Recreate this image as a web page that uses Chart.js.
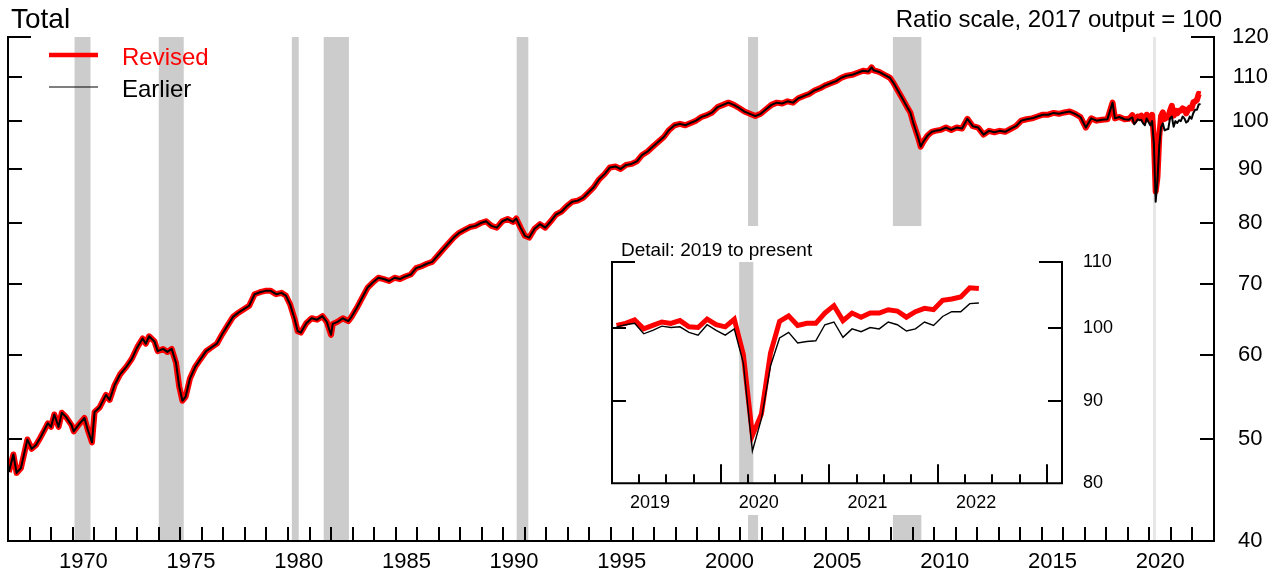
<!DOCTYPE html>
<html>
<head>
<meta charset="utf-8">
<title>Industrial production: Total</title>
<script src="https://cdn.jsdelivr.net/npm/chart.js@4.4.1/dist/chart.umd.min.js"></script>
<style>
    body { margin: 0; background: #fff; }
    #wrap { position: relative; width: 1285px; height: 575px; }
    #wrap canvas { position: absolute; }
    #main { left: 0; top: 0; }
    #inset { left: 600px; top: 226px; background: #fff; }
</style>
</head>
<body>
<div id="wrap">
    <canvas id="main" width="1285" height="575"></canvas>
    <canvas id="inset" width="530" height="289"></canvas>
</div>
<script>
// History before 2019 (revised and earlier overlap there), decimal years
const histDates = [
    1967.04, 1967.25, 1967.4, 1967.6, 1967.9, 1968.1, 1968.3, 1968.5, 1968.7, 1968.85,
    1969.0, 1969.15, 1969.35, 1969.5, 1969.7, 1969.95, 1970.05, 1970.3, 1970.55, 1970.7,
    1970.9, 1971.02, 1971.25, 1971.55, 1971.72, 1971.95, 1972.2, 1972.5, 1972.75, 1973.0,
    1973.25, 1973.4, 1973.55, 1973.8, 1973.95, 1974.2, 1974.4, 1974.6, 1974.8, 1974.95,
    1975.1, 1975.25, 1975.45, 1975.7, 1975.95, 1976.2, 1976.45, 1976.7, 1976.95, 1977.2,
    1977.45, 1977.7, 1977.95, 1978.2, 1978.45, 1978.7, 1978.95, 1979.2, 1979.45, 1979.7,
    1979.9, 1980.1, 1980.3, 1980.45, 1980.6, 1980.85, 1981.1, 1981.35, 1981.6, 1981.8,
    1982.0, 1982.08, 1982.3, 1982.55, 1982.8, 1982.95, 1983.2, 1983.45, 1983.7, 1983.95,
    1984.2, 1984.45, 1984.7, 1984.95, 1985.2, 1985.45, 1985.7, 1985.95, 1986.2, 1986.45,
    1986.7, 1986.95, 1987.2, 1987.45, 1987.7, 1987.95, 1988.2, 1988.45, 1988.7, 1988.95,
    1989.2, 1989.45, 1989.7, 1989.95, 1990.2, 1990.45, 1990.6, 1990.8, 1991.0, 1991.2,
    1991.45, 1991.7, 1991.95, 1992.2, 1992.45, 1992.7, 1992.95, 1993.2, 1993.45, 1993.7,
    1993.95, 1994.2, 1994.45, 1994.7, 1994.95, 1995.2, 1995.45, 1995.7, 1995.95, 1996.2,
    1996.45, 1996.7, 1996.95, 1997.2, 1997.45, 1997.7, 1997.95, 1998.2, 1998.45, 1998.7,
    1998.95, 1999.2, 1999.45, 1999.7, 1999.95, 2000.2, 2000.45, 2000.7, 2000.95, 2001.2,
    2001.45, 2001.7, 2001.95, 2002.2, 2002.45, 2002.7, 2002.95, 2003.2, 2003.45, 2003.7,
    2003.95, 2004.2, 2004.45, 2004.7, 2004.95, 2005.2, 2005.45, 2005.7, 2005.95, 2006.2,
    2006.45, 2006.7, 2006.95, 2007.1, 2007.2, 2007.45, 2007.7, 2007.95, 2008.1, 2008.35,
    2008.57, 2008.75, 2008.9, 2009.03, 2009.26, 2009.38, 2009.5, 2009.7, 2009.9, 2010.05,
    2010.3, 2010.55, 2010.8, 2011.05, 2011.3, 2011.55, 2011.8, 2012.05, 2012.3, 2012.55,
    2012.8, 2013.05, 2013.3, 2013.55, 2013.8, 2014.05, 2014.3, 2014.55, 2014.8, 2015.05,
    2015.3, 2015.55, 2015.8, 2016.05, 2016.3, 2016.55, 2016.8, 2017.05, 2017.3, 2017.55,
    2017.8, 2018.05, 2018.29, 2018.4, 2018.6, 2018.85
];
const histValues = [
    46.5, 48.3, 46.4, 46.9, 49.9, 48.9, 49.3, 50.1, 51.0, 51.7,
    51.3, 52.7, 51.3, 52.9, 52.4, 51.5, 50.8, 51.6, 52.3, 51.0,
    49.6, 53.0, 53.5, 55.0, 54.4, 56.2, 57.5, 58.5, 59.5, 61.0,
    62.2, 61.5, 62.5, 61.8, 60.5, 60.8, 60.4, 60.8, 59.0, 56.0,
    54.3, 54.8, 57.0, 58.5, 59.5, 60.5, 61.0, 61.5, 62.8, 64.0,
    65.2, 65.8, 66.3, 66.8, 68.5, 68.8, 69.0, 69.0, 68.5, 68.7,
    68.3, 67.0, 65.0, 63.2, 63.0, 64.3, 65.0, 64.8, 65.3, 64.5,
    62.7, 64.2, 64.5, 65.0, 64.6, 65.2, 66.5, 68.0, 69.5, 70.3,
    71.0, 70.8, 70.5, 71.0, 70.8, 71.2, 71.5, 72.5, 72.8, 73.2,
    73.5, 74.5, 75.5, 76.5, 77.5, 78.3, 78.8, 79.3, 79.5, 80.0,
    80.3, 79.5, 79.2, 80.3, 80.7, 80.2, 80.8, 79.2, 77.8, 77.5,
    79.0, 79.8, 79.2, 80.3, 81.5, 82.0, 83.0, 83.8, 84.0, 84.5,
    85.5, 86.5, 88.0, 89.0, 90.3, 90.5, 90.0, 90.8, 91.0, 91.5,
    92.8, 93.5, 94.5, 95.5, 96.5, 98.0, 99.0, 99.3, 99.0, 99.5,
    100.0, 100.8, 101.2, 101.8, 103.0, 103.5, 104.0, 103.5, 102.8, 102.0,
    101.5, 101.0, 101.5, 102.5, 103.5, 104.0, 103.8, 104.3, 104.0, 105.0,
    105.5, 106.0, 106.8, 107.3, 108.0, 108.5, 109.0, 109.8, 110.3, 110.5,
    111.0, 111.5, 111.3, 112.3, 111.6, 111.2, 110.5, 109.8, 108.7, 106.5,
    104.6, 103.0, 101.8, 99.6, 96.4, 94.5, 95.5, 96.8, 97.6, 97.8,
    98.0, 98.5, 98.0, 98.5, 98.3, 100.4, 98.8, 98.5, 97.0, 97.8,
    97.5, 97.8, 97.6, 98.2, 98.8, 100.0, 100.3, 100.5, 100.9, 101.3,
    101.3, 101.7, 101.5, 101.8, 102.0, 101.5, 100.8, 98.5, 100.5, 100.0,
    100.2, 100.3, 104.0, 100.5, 100.8, 100.3
];

// Monthly detail, January 2019 to May 2022
const detailStartYear = 2019;
const detailRevised = [
    100.4, 100.7, 101.2, 99.9, 100.4, 100.9, 100.7, 101.1, 100.2, 100.1, 101.3, 100.5,
    100.2, 101.3, 96.3, 85.7, 88.4, 96.5, 101.0, 101.8, 100.4, 100.7, 100.7, 102.2,
    103.3, 101.1, 102.2, 101.6, 102.2, 102.2, 102.7, 102.5, 101.6, 102.4, 102.9, 102.7,
    104.1, 104.3, 104.6, 106.0, 105.9
];
const detailEarlier = [
    100.2, 100.5, 100.7, 99.2, 99.7, 100.3, 100.1, 100.2, 99.4, 99.0, 100.5, 99.7,
    99.0, 99.9, 95.1, 83.8, 87.8, 94.7, 98.6, 99.4, 97.9, 98.1, 98.2, 100.5,
    100.9, 98.7, 99.9, 99.5, 100.1, 99.9, 100.9, 100.5, 99.6, 99.9, 100.9, 100.4,
    101.7, 102.4, 102.4, 103.6, 103.7
];

// Recession shading, decimal years
const recStart = [1970.09, 1974.0, 1980.18, 1981.66, 1990.62, 2001.36, 2008.09, 2020.17];
const recEnd   = [1970.83, 1975.16, 1980.5, 1982.83, 1991.16, 2001.83, 2009.41, 2020.30];

const mainYTicks = [40, 50, 60, 70, 80, 90, 100, 110, 120];
const mainYearLabels = [1970, 1975, 1980, 1985, 1990, 1995, 2000, 2005, 2010, 2015, 2020];
const insetYTicks = [80, 90, 100, 110];
const insetYearLabels = [2019, 2020, 2021, 2022];

const FONT = '"Liberation Sans", Arial, Helvetica, sans-serif';
Chart.defaults.font.family = FONT;
Chart.defaults.color = '#000';

const monthDate = i => detailStartYear + (i + 0.5) / 12;
const histPoints = histDates.map((d, i) => ({ x: d, y: histValues[i] }));
const revisedDetailPts = detailRevised.map((v, i) => ({ x: monthDate(i), y: v }));
const earlierDetailPts = detailEarlier.map((v, i) => ({ x: monthDate(i), y: v }));

// gray bars for recessions, clipped to the plot
function drawShading(chart, thinColor) {
    const { ctx, chartArea: a, scales: { x } } = chart;
    ctx.save();
    recStart.forEach((s, i) => {
        const e = recEnd[i];
        if (e < x.min || s > x.max) return;
        const x0 = x.getPixelForValue(Math.max(s, x.min));
        const x1 = x.getPixelForValue(Math.min(e, x.max));
        ctx.fillStyle = (thinColor && x1 - x0 < 4) ? thinColor : '#cccccc';
        ctx.fillRect(x0, a.top, Math.max(x1 - x0, 1.5), a.bottom - a.top);
    });
    ctx.restore();
}

// axis lines and inward tick marks
function drawFrame(chart, xMarks, yMarks) {
    const { ctx, chartArea: a, scales: { x, y } } = chart;
    ctx.save();
    ctx.strokeStyle = '#000';
    ctx.lineWidth = 2;
    ctx.lineCap = 'square';
    ctx.beginPath();
    ctx.moveTo(a.left, a.top);
    ctx.lineTo(a.left, a.bottom);
    ctx.lineTo(a.right, a.bottom);
    ctx.lineTo(a.right, a.top);
    ctx.stroke();
    ctx.lineCap = 'butt';
    ctx.beginPath();
    xMarks.forEach(([v, len]) => {
        const px = Math.round(x.getPixelForValue(v));
        ctx.moveTo(px, a.bottom);
        ctx.lineTo(px, a.bottom - len);
    });
    yMarks.forEach(([v, len]) => {
        const py = Math.round(y.getPixelForValue(v));
        ctx.moveTo(a.left, py);
        ctx.lineTo(a.left + len, py);
        ctx.moveTo(a.right, py);
        ctx.lineTo(a.right - len, py);
    });
    ctx.stroke();
    ctx.restore();
}

const mainXMarks = [];
for (let yr = 1968; yr <= 2022; yr++) mainXMarks.push([yr, 14]);
const mainYMarks = mainYTicks.slice(1).map(v => [v, v === 120 ? 23 : 14]);

const mainDecor = {
    id: 'mainDecor',
    beforeDatasetsDraw(chart) { drawShading(chart, '#e6e6e6'); },
    afterDatasetsDraw(chart) { drawFrame(chart, mainXMarks, mainYMarks); },
    afterDraw(chart) {
        const ctx = chart.ctx;
        ctx.save();
        ctx.fillStyle = '#000';
        ctx.textBaseline = 'alphabetic';
        ctx.font = '28px ' + FONT;
        ctx.textAlign = 'left';
        ctx.fillText('Total', 11, 28);
        ctx.font = '24px ' + FONT;
        ctx.textAlign = 'right';
        ctx.fillText('Ratio scale, 2017 output = 100', 1222, 27);
        // legend
        ctx.textAlign = 'left';
        chart.data.datasets.forEach((ds, i) => {
            const ly = 55 + i * 32;
            ctx.strokeStyle = ds.borderColor;
            ctx.lineWidth = i === 0 ? 4.5 : 1.2;
            ctx.beginPath();
            ctx.moveTo(49, ly);
            ctx.lineTo(98, ly);
            ctx.stroke();
            ctx.fillStyle = ds.borderColor;
            ctx.fillText(ds.label, 122, ly + 10);
        });
        ctx.restore();
    }
};

new Chart(document.getElementById('main'), {
    type: 'line',
    data: {
        datasets: [
            {
                label: 'Revised',
                data: histPoints.concat(revisedDetailPts),
                borderColor: '#ff0000',
                borderWidth: 6,
                order: 2
            },
            {
                label: 'Earlier',
                data: histPoints.concat(earlierDetailPts),
                borderColor: '#000000',
                borderWidth: 2,
                order: 1
            }
        ]
    },
    options: {
        responsive: false,
        animation: false,
        layout: { padding: { left: 8, top: 37, right: 0, bottom: 0 } },
        elements: { point: { radius: 0 }, line: { tension: 0, borderJoinStyle: 'round' } },
        plugins: { legend: { display: false }, tooltip: { enabled: false } },
        scales: {
            x: {
                type: 'linear', min: 1967, max: 2023,
                afterBuildTicks: s => { s.ticks = mainYearLabels.map(v => ({ value: v + 0.5 })); },
                afterFit: s => { s.height = 34; },
                grid: { display: false, drawTicks: false }, border: { display: false },
                ticks: { font: { size: 22 }, padding: 8, maxRotation: 0, autoSkip: false,
                         callback: v => String(Math.floor(v)) }
            },
            y: {
                type: 'logarithmic', position: 'right', min: 40, max: 120,
                afterBuildTicks: s => { s.ticks = mainYTicks.map(v => ({ value: v })); },
                afterFit: s => { s.width = 71; },
                grid: { display: false, drawTicks: false }, border: { display: false },
                ticks: { font: { size: 22 }, padding: 18, crossAlign: 'center', autoSkip: false,
                         callback: v => String(v) }
            }
        }
    },
    plugins: [mainDecor]
});

// inset: detail 2019 to present
const insetXMarks = [];
for (let q = 1; q <= 16; q++) insetXMarks.push([2019 + q / 4, q % 4 === 0 ? 19 : 9]);
const insetYMarks = insetYTicks.slice(1).map(v => [v, v === 110 ? 23 : 14]);

const insetDecor = {
    id: 'insetDecor',
    beforeDatasetsDraw(chart) { drawShading(chart, null); },
    afterDatasetsDraw(chart) { drawFrame(chart, insetXMarks, insetYMarks); },
    afterDraw(chart) {
        const ctx = chart.ctx;
        ctx.save();
        ctx.fillStyle = '#000';
        ctx.font = '19px ' + FONT;
        ctx.textAlign = 'left';
        ctx.textBaseline = 'alphabetic';
        ctx.fillText('Detail: 2019 to present', 21, 30);
        ctx.restore();
    }
};

new Chart(document.getElementById('inset'), {
    type: 'line',
    data: {
        datasets: [
            { label: 'Revised', data: revisedDetailPts, borderColor: '#ff0000', borderWidth: 5, order: 2 },
            { label: 'Earlier', data: earlierDetailPts, borderColor: '#000000', borderWidth: 1.4, order: 1 }
        ]
    },
    options: {
        responsive: false,
        animation: false,
        layout: { padding: { left: 12, top: 36, right: 0, bottom: 0 } },
        elements: { point: { radius: 0 }, line: { tension: 0 } },
        plugins: { legend: { display: false }, tooltip: { enabled: false } },
        scales: {
            x: {
                type: 'linear', min: 2019, max: 2023.14,
                afterBuildTicks: s => { s.ticks = insetYearLabels.map(v => ({ value: v + 0.35 })); },
                afterFit: s => { s.height = 30; },
                grid: { display: false, drawTicks: false }, border: { display: false },
                ticks: { font: { size: 18 }, padding: 9, maxRotation: 0, autoSkip: false,
                         callback: v => String(Math.floor(v)) }
            },
            y: {
                type: 'logarithmic', position: 'right', min: 80, max: 110,
                afterBuildTicks: s => { s.ticks = insetYTicks.map(v => ({ value: v })); },
                afterFit: s => { s.width = 68; },
                grid: { display: false, drawTicks: false }, border: { display: false },
                ticks: { font: { size: 18 }, padding: 21, crossAlign: 'near', autoSkip: false,
                         callback: v => String(v) }
            }
        }
    },
    plugins: [insetDecor]
});
</script>
</body>
</html>
